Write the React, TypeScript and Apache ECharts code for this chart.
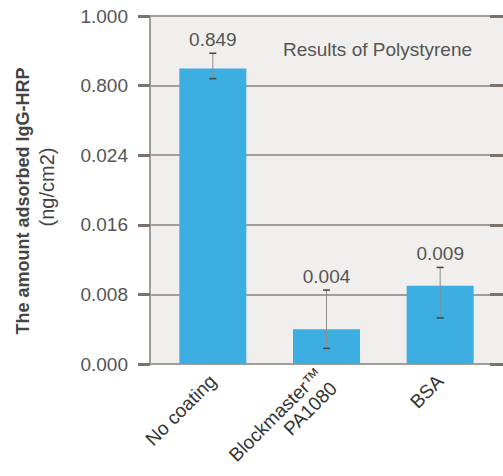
import React, { useEffect, useRef } from "react";
import * as echarts from "echarts";

const categories = ["No coating", "Blockmaster™\nPA1080", "BSA"];
const values = [0.849, 0.004, 0.009];
const errLow = [0.82, 0.0018, 0.0053];
const errHigh = [0.893, 0.0085, 0.0111];
const tickLabels = ["0.000", "0.008", "0.016", "0.024", "0.800", "1.000"];

// broken axis: lower segment 0..0.024 (step 0.008), upper segment 0.8..1.0 (step 0.2)
const toPos = (v: number) => (v <= 0.024 ? v / 0.008 : 4 + (v - 0.8) / 0.2);

const FONT = "'Liberation Sans', Arial, sans-serif";

export default function App() {
  const ref = useRef<HTMLDivElement>(null);
  useEffect(() => {
    document.body.style.margin = "0";
    const chart = echarts.init(ref.current!, null, { renderer: "svg" });
    const gridTop = 16;
    const gridBottom = 112;
    chart.setOption({
      animation: false,
      textStyle: { fontFamily: FONT },
      grid: [
        {
          left: 150,
          right: 0,
          top: gridTop,
          bottom: gridBottom,
          show: true,
          backgroundColor: "#f0efed",
          borderWidth: 0,
          containLabel: false,
          outerBoundsMode: "none",
        },
        {
          left: 156,
          right: 6,
          top: gridTop,
          bottom: gridBottom,
          containLabel: false,
          outerBoundsMode: "none",
        },
      ],
      xAxis: [
        { type: "category", gridIndex: 0, data: categories, show: false },
        {
          type: "category",
          gridIndex: 1,
          data: categories,
          axisLine: { show: false },
          axisTick: { show: false },
          axisLabel: {
            interval: 0,
            rotate: 45,
            margin: 14,
            fontSize: 19,
            color: "#333",
            fontFamily: FONT,
            lineHeight: 20,
          },
        },
      ],
      yAxis: [
        {
          type: "value",
          gridIndex: 0,
          min: 0,
          max: 5,
          interval: 1,
          axisLine: { show: true, lineStyle: { color: "#a39b96", width: 2 } },
          axisTick: { show: true, length: 12, lineStyle: { color: "#7d716b", width: 3 } },
          axisLabel: {
            formatter: (v: number) => tickLabels[Math.round(v)],
            margin: 22,
            fontSize: 19,
            color: "#555",
            fontFamily: FONT,
          },
          splitLine: { show: true, lineStyle: { color: "#a49c97", width: 2 } },
        },
        {
          type: "value",
          gridIndex: 0,
          min: 0,
          max: 5,
          interval: 1,
          axisLine: { show: false },
          axisTick: { show: true, inside: true, length: 13, lineStyle: { color: "#7d716b", width: 3 } },
          axisLabel: { show: false },
          splitLine: { show: false },
        },
        { type: "value", gridIndex: 1, min: 0, max: 5, interval: 1, show: false },
      ],
      graphic: [
        {
          type: "text",
          x: 283,
          y: 49,
          style: {
            text: "Results of Polystyrene",
            fontSize: 19,
            fontFamily: FONT,
            fill: "#555",
            align: "left",
            verticalAlign: "middle",
          },
        },
        {
          type: "text",
          x: 23,
          y: 201,
          rotation: Math.PI / 2,
          style: {
            text: "The amount adsorbed IgG-HRP",
            fontSize: 18,
            fontWeight: "bold",
            fontFamily: FONT,
            fill: "#444",
            align: "center",
            verticalAlign: "middle",
          },
        },
        {
          type: "text",
          x: 47,
          y: 187,
          rotation: Math.PI / 2,
          style: {
            text: "(ng/cm2)",
            fontSize: 20,
            fontFamily: FONT,
            fill: "#444",
            align: "center",
            verticalAlign: "middle",
          },
        },
      ],
      series: [
        {
          type: "bar",
          xAxisIndex: 1,
          yAxisIndex: 2,
          barWidth: 67,
          itemStyle: { color: "#3daee2" },
          data: values.map(toPos),
        },
        {
          type: "custom",
          xAxisIndex: 1,
          yAxisIndex: 2,
          z: 5,
          encode: { x: 0, y: [1, 2] },
          data: categories.map((_, i) => [i, toPos(errLow[i]), toPos(errHigh[i]), values[i]]),
          renderItem: (params: any, api: any) => {
            const idx = api.value(0);
            const lo = api.coord([idx, api.value(1)]);
            const hi = api.coord([idx, api.value(2)]);
            const cap = 3.5;
            return {
              type: "group",
              children: [
                {
                  type: "line",
                  shape: { x1: lo[0], y1: lo[1], x2: hi[0], y2: hi[1] },
                  style: { stroke: "#8c8c8c", lineWidth: 1 },
                },
                {
                  type: "line",
                  shape: { x1: hi[0] - cap, y1: hi[1], x2: hi[0] + cap, y2: hi[1] },
                  style: { stroke: "#444", lineWidth: 1.5 },
                },
                {
                  type: "line",
                  shape: { x1: lo[0] - cap, y1: lo[1], x2: lo[0] + cap, y2: lo[1] },
                  style: { stroke: "#444", lineWidth: 1.5 },
                },
                {
                  type: "text",
                  x: hi[0],
                  y: hi[1] - 14,
                  style: {
                    text: Number(api.value(3)).toFixed(3),
                    fontSize: 19,
                    fontFamily: FONT,
                    fill: "#555",
                    align: "center",
                    verticalAlign: "middle",
                  },
                },
              ],
            };
          },
        },
      ],
    });
    return () => chart.dispose();
  }, []);
  return <div ref={ref} style={{ width: 503, height: 476 }} />;
}
